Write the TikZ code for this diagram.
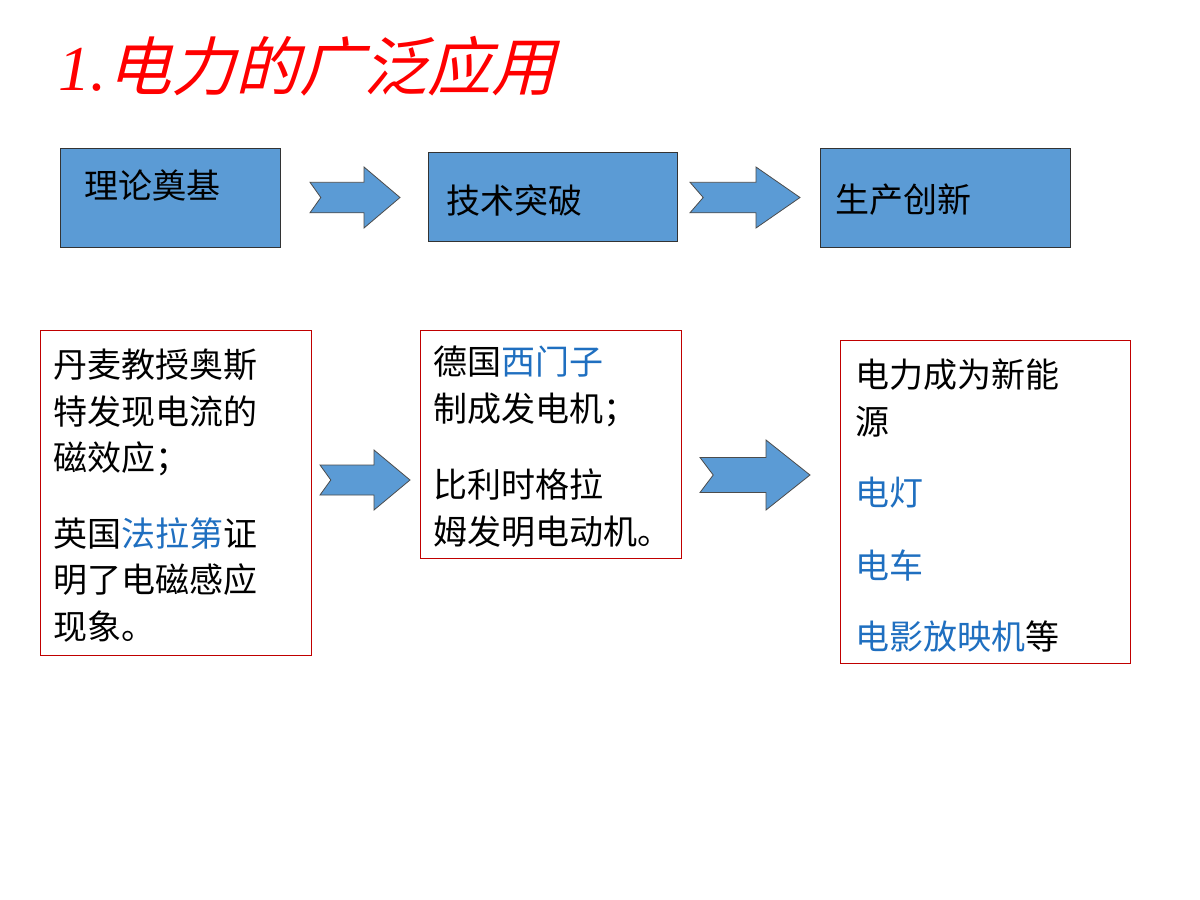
\documentclass[tikz,border=0pt]{standalone}
\usepackage{fontspec}
\newfontfamily\cjk{Noto Sans CJK SC}
\newfontfamily\cjkit[FakeSlant=0.25]{Noto Sans CJK SC}
\newfontfamily\serifit{Liberation Serif}[ItalicFont={Liberation Serif Italic}]
\definecolor{boxblue}{HTML}{5B9BD5}
\definecolor{txtblue}{HTML}{1F6FC0}
\definecolor{redline}{HTML}{C00000}
\tikzset{
 topbox/.style={draw=black!80,fill=boxblue,line width=0.8pt},
 redbox/.style={draw=redline,line width=0.8pt},
 arr/.style={draw=black!70,fill=boxblue,line width=0.8pt},
 ln/.style={anchor=west,inner sep=0pt,font=\cjk\fontsize{34}{40}\selectfont},
}
\newcommand{\notcharrow}[4]{%
 \draw[arr] (#1,#2+0.25*#4) -- (#1+0.6*#3,#2+0.25*#4) -- (#1+0.6*#3,#2) -- (#1+#3,#2+0.5*#4) -- (#1+0.6*#3,#2+#4) -- (#1+0.6*#3,#2+0.75*#4) -- (#1,#2+0.75*#4) -- (#1+0.12*#3,#2+0.5*#4) -- cycle;}
\begin{document}
\begin{tikzpicture}[x=1pt,y=-1pt]
\useasboundingbox[fill=white] (0,0) rectangle (1200,900);
\node[anchor=west,inner sep=0pt,text=red] (title) at (58,66) {{\serifit\itshape\fontsize{64}{70}\selectfont 1.}\,{\cjkit\fontsize{64}{70}\selectfont 电力的广泛应用}};
% top boxes
\draw[topbox] (60,148) rectangle (280,247);
\draw[topbox] (428,152) rectangle (677,241);
\draw[topbox] (820,148) rectangle (1070,247);
\node[ln] (t1) at (84,185) {理论奠基};
\node[ln] (t2) at (446,200) {技术突破};
\node[ln] (t3) at (835,200) {生产创新};
\notcharrow{310}{167}{90}{61}
\notcharrow{690}{167}{110}{61}
\notcharrow{320}{450}{90}{60}
\notcharrow{700}{440}{110}{70}
% red boxes
\draw[redbox] (40,330) rectangle (311,655);
\draw[redbox] (420,330) rectangle (681,558);
\draw[redbox] (840,340) rectangle (1130,663);
\node[ln] (a1) at (53,365) {丹麦教授奥斯};
\node[ln] (a2) at (53,412) {特发现电流的};
\node[ln] (a3) at (53,459) {磁效应；};
\node[ln] (a4) at (53,533) {英国\textcolor{txtblue}{法拉第}证};
\node[ln] (a5) at (53,580) {明了电磁感应};
\node[ln] (a6) at (53,627) {现象。};
\node[ln] (b1) at (433,362) {德国\textcolor{txtblue}{西门子}};
\node[ln] (b2) at (433,410) {制成发电机；};
\node[ln] (b3) at (433,484) {比利时格拉};
\node[ln] (b4) at (433,532) {姆发明电动机。};
\node[ln] (c1) at (855,375) {电力成为新能};
\node[ln] (c2) at (855,422) {源};
\node[ln,text=txtblue] (c3) at (855,493) {电灯};
\node[ln,text=txtblue] (c4) at (855,565) {电车};
\node[ln] (c5) at (855,637) {\textcolor{txtblue}{电影放映机}等};
\end{tikzpicture}
\end{document}
